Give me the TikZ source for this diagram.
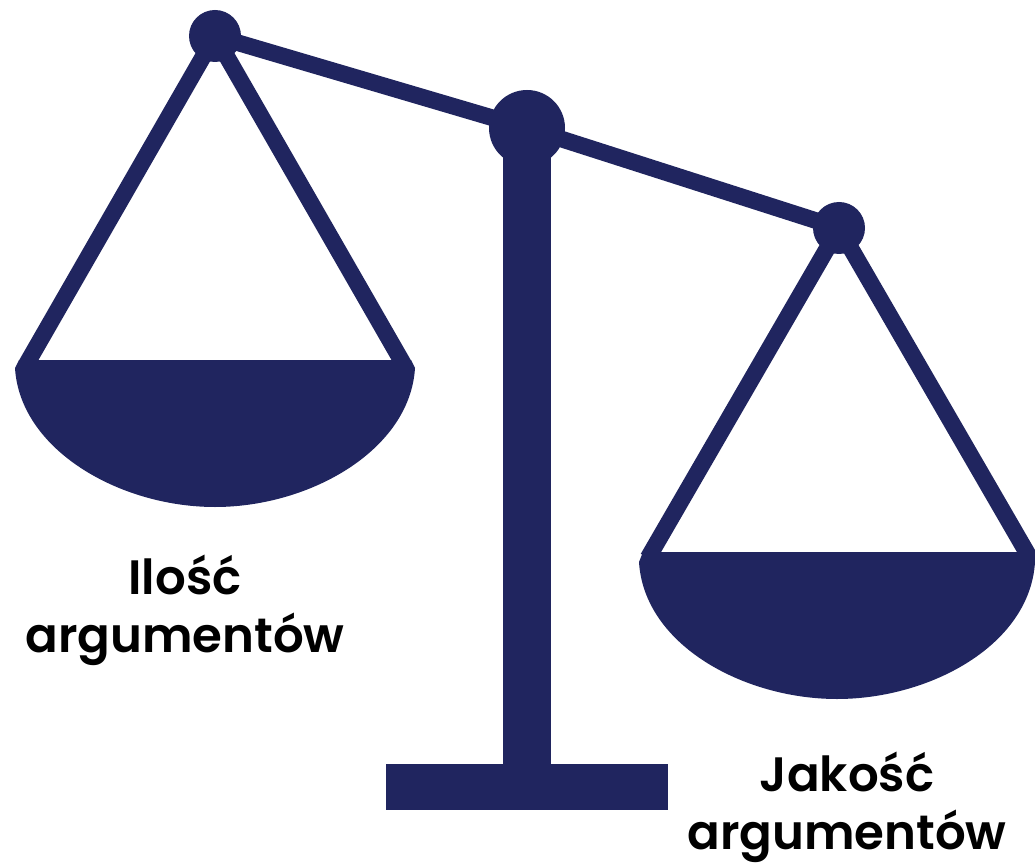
\documentclass[tikz,border=0pt]{standalone}
\usepackage{fontspec}
\setmainfont{Poppins}[BoldFont={* SemiBold}]
\definecolor{navy}{HTML}{20255F}
\tikzset{
  beam/.style={draw=navy,line width=12.5pt},
  cord/.style={draw=navy,line width=12.5pt},
  solid part/.style={fill=navy,draw=none},
  lab/.style={font=\fontsize{36.2pt}{43.5pt}\selectfont\bfseries,text=black,align=center,inner sep=0pt}
}
\begin{document}
\begin{tikzpicture}[x=0.75pt,y=-0.75pt]
\useasboundingbox (0,0) rectangle (1035,866);
\fill[white] (0,0) rectangle (1035,866);
\node[solid part,circle,minimum size=19.5pt*2,inner sep=0pt] (ph) at (215,36) {};
\node[solid part,circle,minimum size=19.5pt*2,inner sep=0pt] (ph2) at (839,228) {};
\node[solid part,circle,minimum size=28.5pt*2,inner sep=0pt] (pv) at (527,128) {};
\coordinate (LA) at (26,365);
\coordinate (LB) at (404,365);
\coordinate (RA) at (648,558);
\coordinate (RB) at (1030,558);
\draw[beam] (ph.center) -- (pv.center);
\draw[beam] (pv.center) -- (ph2.center);
\draw[cord] (LA) -- (ph.center) -- (LB);
\draw[cord] (RA) -- (ph2.center) -- (RB);
\fill[navy] (503,128) rectangle (551,770);
\fill[navy] (386,764) rectangle (668,810);
\fill[navy] (19,360) -- (411,360) -- (415,368) .. controls (410,450) and (310,507) .. (215,507) .. controls (120,507) and (20,450) .. (15,368) -- cycle;
\fill[navy] (643,552) -- (1035,552) -- (1035,562) .. controls (1030,645) and (930,699) .. (837,699) .. controls (744,699) and (644,645) .. (639,562) -- cycle;
\node[lab] (t1) at (185,610) {Ilość\\argumentów};
\node[lab] (t2) at (847,807.5) {Jakość\\argumentów};
\end{tikzpicture}
\end{document}
